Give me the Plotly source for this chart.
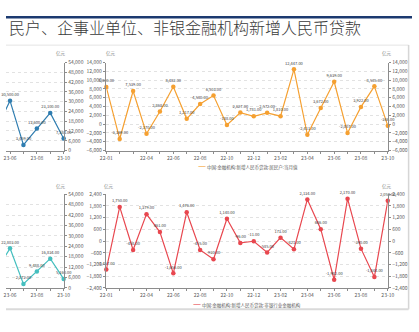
import plotly.graph_objects as go

W, H = 419, 332

# ---------------- data ----------------
months = ["22-01", "22-02", "22-03", "22-04", "22-05", "22-06", "22-07", "22-08",
          "22-09", "22-10", "22-11", "22-12", "23-01", "23-02", "23-03", "23-04",
          "23-05", "23-06", "23-07", "23-08", "23-09", "23-10"]
tick_labels = ["22-01", "22-04", "22-06", "22-08", "22-10", "22-12",
               "23-02", "23-04", "23-06", "23-08", "23-10"]

# cropped left panels (only the visible tail of the series)
left_months = ["23-05", "23-06", "23-07", "23-08", "23-09", "23-10"]
total_loans = [13600, 30500, 3459, 13600, 23100, 7384]
corp_loans = [10400, 22803, 2272, 9488, 16834, 5160]

# 居民户 当月值 (亿元)
household = [8430, -3369, 7539, -2170, 2868, 8482, 1217, 4580, 6503, -188, 2627, 1781,
             2572, 1810, 12447, -2411, 3672, 9639, -2007, 3922, 8585, -346]
# 非银行业金融机构 (亿元)
nonbank = [-1457, 1750, -458, 1379, 461, -1656, 1476, -455, -930, 1140, -96, -11,
           -585, 173, -421, 2134, 606, -1982, 2170, -390, -1844, 2058]

title_text = "民户、企事业单位、非银金融机构新增人民币贷款"
unit_text = "亿元"
legend_top = "中国:金融机构:新增人民币贷款:居民户:当月值"
legend_bottom = "中国:金融机构:新增人民币贷款:非银行业金融机构"

C_BLUE = "#2f7db0"
C_TEAL = "#45bfbf"
C_ORANGE = "#f5a031"
C_RED = "#e8474f"

FONT = "Noto Sans CJK SC, Noto Sans, sans-serif"


def px_x(v):
    return v / W


def px_y(v):
    return 1 - v / H


# plot geometry (pixels)
MID_L, MID_R = 103.5, 394.0
LEFT_R = 59.5
per_month = (MID_R - MID_L) / (len(months) - 1)
left_span = LEFT_R / per_month
TOP_DOM = [px_y(149.7), px_y(59.8)]
BOT_DOM = [px_y(290.0), px_y(194.3)]

tick_font = dict(family=FONT, size=5, color="#595959")
axis_common = dict(showline=True, linecolor="#8c8c8c", linewidth=1, ticks="outside",
                   ticklen=2.5, tickcolor="#8c8c8c", tickwidth=1, tickfont=tick_font,
                   zeroline=False, fixedrange=True)
tick_text = [m if m in tick_labels else "" for m in months]


def xaxis(domain, anchor, rng):
    return dict(axis_common, type="category", categoryarray=months, categoryorder="array",
                tickmode="array", tickvals=months, ticktext=tick_text,
                domain=domain, anchor=anchor, range=rng, showgrid=False)


def yaxis(domain, anchor, rng, dtick, side, grid=True, overlaying=None):
    d = dict(axis_common, domain=domain, anchor=anchor, range=rng, dtick=dtick,
             tick0=0, tickformat=",d", side=side, showgrid=grid,
             gridcolor="#e2e2e2", griddash="dot", gridwidth=1)
    if overlaying:
        d["overlaying"] = overlaying
        del d["domain"]
    return d


fig = go.Figure()


def line_trace(x, y, color, xa, ya, ghost=False):
    if ghost:
        return go.Scatter(x=x, y=y, xaxis=xa, yaxis=ya, mode="lines", opacity=0,
                          line=dict(width=0.1, color=color), hoverinfo="skip",
                          showlegend=False)
    return go.Scatter(x=x, y=y, xaxis=xa, yaxis=ya, mode="lines+markers+text",
                      line=dict(color=color, width=1.2),
                      marker=dict(color=color, size=4.5, symbol="circle"),
                      texttemplate="%{y:,.2f}", textposition="top center",
                      textfont=dict(family=FONT, size=4, color="#404040"),
                      cliponaxis=False, showlegend=False)


fig.add_trace(line_trace(left_months, total_loans, C_BLUE, "x", "y"))
fig.add_trace(line_trace(months, household, C_ORANGE, "x2", "y2"))
fig.add_trace(line_trace(months, household, C_ORANGE, "x2", "y5", ghost=True))
fig.add_trace(line_trace(left_months, corp_loans, C_TEAL, "x3", "y3"))
fig.add_trace(line_trace(months, nonbank, C_RED, "x4", "y4"))
fig.add_trace(line_trace(months, nonbank, C_RED, "x4", "y6", ghost=True))

n = len(months) - 1
left_range = [n - left_span, n]

fig.update_layout(
    width=W, height=H, autosize=False,
    margin=dict(l=0, r=0, t=0, b=0, pad=0),
    paper_bgcolor="white", plot_bgcolor="white",
    font=dict(family=FONT, size=5, color="#595959"),
    showlegend=False,
    xaxis=xaxis([0, px_x(LEFT_R)], "y", left_range),
    yaxis=yaxis(TOP_DOM, "x", [0, 54000], 6000, "right"),
    xaxis2=xaxis([px_x(MID_L), px_x(MID_R)], "y2", [0, n]),
    yaxis2=yaxis(TOP_DOM, "x2", [-6000, 14000], 2000, "left"),
    yaxis5=yaxis(TOP_DOM, "x2", [-6000, 14000], 2000, "right", grid=False, overlaying="y2"),
    xaxis3=xaxis([0, px_x(LEFT_R)], "y3", left_range),
    yaxis3=yaxis(BOT_DOM, "x3", [0, 54000], 6000, "right"),
    xaxis4=xaxis([px_x(MID_L), px_x(MID_R)], "y4", [0, n]),
    yaxis4=yaxis(BOT_DOM, "x4", [-2400, 2400], 600, "left"),
    yaxis6=yaxis(BOT_DOM, "x4", [-2400, 2400], 600, "right", grid=False, overlaying="y4"),
)

# decoration: header rule and panel frame
shapes = [
    dict(type="line", xref="paper", yref="paper", x0=0, x1=1, y0=px_y(13.5), y1=px_y(13.5),
         line=dict(color="#1c3a70", width=2.5), layer="above"),
    dict(type="line", xref="paper", yref="paper", x0=0, x1=px_x(415.5), y0=px_y(42), y1=px_y(42),
         line=dict(color="#e4e4e4", width=1)),
    dict(type="line", xref="paper", yref="paper", x0=px_x(415.5), x1=px_x(415.5),
         y0=px_y(42), y1=px_y(311.7), line=dict(color="#d6d6d6", width=1.5)),
    dict(type="line", xref="paper", yref="paper", x0=0, x1=px_x(415.5),
         y0=px_y(311.7), y1=px_y(311.7), line=dict(color="#dadada", width=2)),
]
fig.update_layout(shapes=shapes)

ann = []
ann.append(dict(text=title_text, xref="paper", yref="paper", x=px_x(1.5), y=px_y(23.5),
                xanchor="left", yanchor="middle", showarrow=False,
                font=dict(family=FONT, size=16, color="#3a3a3a", weight=300)))
for (ux, uy) in [(57, 51), (108, 51), (393, 51), (57, 186), (106, 186), (393, 186)]:
    ann.append(dict(text=unit_text, xref="paper", yref="paper", x=px_x(ux), y=px_y(uy),
                    xanchor="center", yanchor="middle", showarrow=False,
                    font=dict(family=FONT, size=4.5, color="#7f7f7f")))
ann.append(dict(text='<span style="color:%s;font-size:9px">—</span> %s' % (C_ORANGE, legend_top),
                xref="paper", yref="paper", x=px_x(196), y=px_y(164.5),
                xanchor="left", yanchor="middle", showarrow=False,
                font=dict(family=FONT, size=4.5, color="#595959")))
ann.append(dict(text='<span style="color:%s;font-size:9px">—</span> %s' % (C_RED, legend_bottom),
                xref="paper", yref="paper", x=px_x(191), y=px_y(306),
                xanchor="left", yanchor="middle", showarrow=False,
                font=dict(family=FONT, size=4.5, color="#595959")))
fig.update_layout(annotations=ann)

fig.write_html("out.html")
